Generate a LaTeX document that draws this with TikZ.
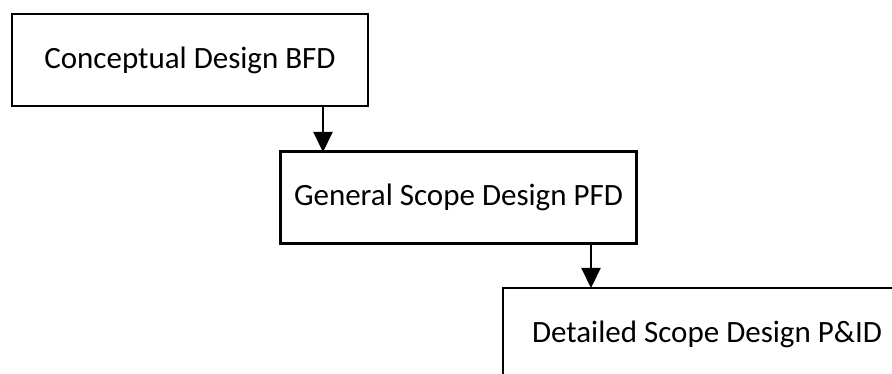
\documentclass[tikz,border=0pt]{standalone}
\usepackage{fontspec}
\setmainfont{Carlito}
\usetikzlibrary{arrows.meta}
\begin{document}
\begin{tikzpicture}[x=1pt,y=-1pt,
  box/.style={draw=black,line width=2.4pt,fill=white,minimum width=356pt,minimum height=92pt,inner sep=0pt,font=\fontsize{31}{36}\selectfont},
  conn/.style={line width=2.2pt,-{Triangle[length=20pt,width=19pt]}}]
\useasboundingbox (0,0) rectangle (892,374);
\clip (0,0) rectangle (892,374);
\node[box] (b1) at (190,60) {Conceptual Design BFD};
\node[box] (b2) at (458.5,197.5) {General Scope Design PFD};
\node[box,minimum width=408pt] (b3) at (707,334) {Detailed Scope Design P\&ID};
\coordinate (a1) at (323,106);
\coordinate (t1) at (323,152);
\coordinate (a2) at (591,243);
\coordinate (t2) at (591,288);
\draw[conn] (a1) -- (t1);
\draw[conn] (a2) -- (t2);
\end{tikzpicture}
\end{document}
